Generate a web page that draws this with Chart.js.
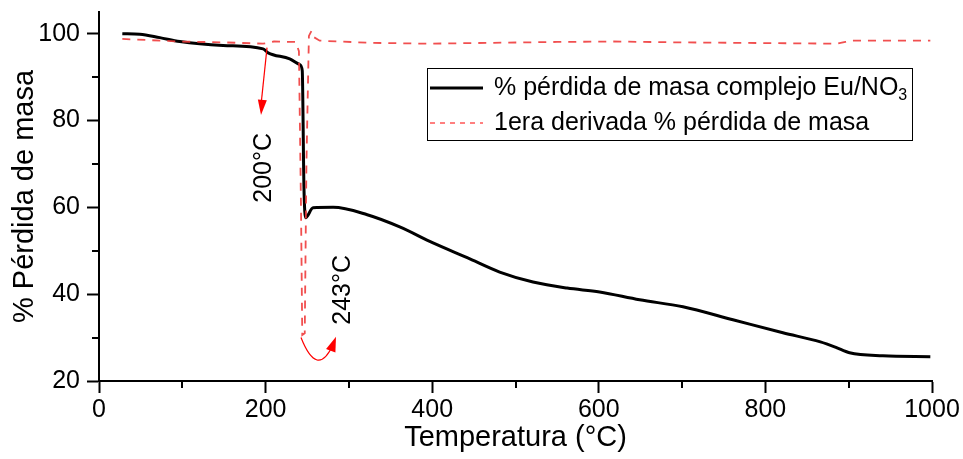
<!DOCTYPE html>
<html>
<head>
<meta charset="utf-8">
<script src="https://cdn.jsdelivr.net/npm/chart.js@4"></script>
<style>
  html, body { margin: 0; padding: 0; background: #fff; }
  #c { display: block; }
</style>
</head>
<body>
<canvas id="c" width="963" height="459"></canvas>
<script>
const FONT = "'Liberation Sans', Arial, sans-serif";

// TGA curve (% mass)
const tempMasa = [28, 49, 73, 97, 149, 197, 203, 229, 241, 244, 246, 248, 257, 281, 322, 361, 401, 442, 481, 521, 562, 601, 649, 701, 761, 821, 866, 884, 901, 941, 998];
const masa = [100, 99.9, 99.1, 98.2, 97.3, 96.5, 95.6, 94.2, 92.9, 91.5, 65, 57.6, 59.9, 60, 58.3, 55.5, 51.8, 48.4, 45.1, 42.8, 41.4, 40.5, 38.7, 37.1, 34.1, 31.1, 29, 27.8, 26.5, 25.8, 25.6];

// first derivative curve (plotted on same axis)
const tempDeriv = [28, 97, 150, 197, 210, 236, 240, 242.5, 244, 247, 249, 252, 255, 258, 265, 325, 397, 469, 550, 617, 700, 761, 830, 886, 896, 905, 998];
const deriv = [98.8, 98.2, 98.0, 97.7, 98.2, 98.1, 96, 60, 30.6, 31, 70, 99.5, 100.6, 99.2, 98.4, 97.9, 97.7, 97.9, 98.1, 98.2, 98.0, 97.9, 97.8, 97.7, 98.1, 98.4, 98.4];

const xTicks = [0, 200, 400, 600, 800, 1000];
const yTicks = [20, 40, 60, 80, 100];
const xMinor = [100, 300, 500, 700, 900];
const yMinor = [30, 50, 70, 90];

const labels = ["% pérdida de masa complejo Eu/NO", "1era derivada % pérdida de masa"];

function arrowHead(ctx, tx, ty, fx, fy, len, half) {
  const a = Math.atan2(ty - fy, tx - fx);
  ctx.beginPath();
  ctx.moveTo(tx, ty);
  ctx.lineTo(tx - len * Math.cos(a) + half * Math.sin(a), ty - len * Math.sin(a) - half * Math.cos(a));
  ctx.lineTo(tx - len * Math.cos(a) - half * Math.sin(a), ty - len * Math.sin(a) + half * Math.cos(a));
  ctx.closePath();
  ctx.fill();
}

const extras = {
  id: "extras",
  afterDraw(chart) {
    const { ctx, scales: { x, y }, chartArea } = chart;
    ctx.save();
    // minor ticks
    ctx.strokeStyle = "#000";
    ctx.lineWidth = 2;
    xMinor.forEach((v) => {
      const px = Math.round(x.getPixelForValue(v));
      ctx.beginPath();
      ctx.moveTo(px, chartArea.bottom);
      ctx.lineTo(px, chartArea.bottom + 7);
      ctx.stroke();
    });
    yMinor.forEach((v) => {
      const py = Math.round(y.getPixelForValue(v));
      ctx.beginPath();
      ctx.moveTo(chartArea.left, py);
      ctx.lineTo(chartArea.left - 7, py);
      ctx.stroke();
    });

    // 200°C arrow
    ctx.strokeStyle = "#ff0000";
    ctx.fillStyle = "#ff0000";
    ctx.lineWidth = 1.2;
    const ax0 = x.getPixelForValue(201.7), ay0 = y.getPixelForValue(96.8);
    const ax1 = x.getPixelForValue(194.5), ay1 = y.getPixelForValue(81.3);
    ctx.beginPath();
    ctx.moveTo(ax0, ay0);
    ctx.lineTo(ax1, ay1 - 10);
    ctx.stroke();
    arrowHead(ctx, ax1, ay1, ax0, ay0, 15, 4.5);

    // 243°C curved arrow
    const bx0 = x.getPixelForValue(242.5), by0 = y.getPixelForValue(30);
    const cx = x.getPixelForValue(262), cy = y.getPixelForValue(20.5);
    const bx1 = x.getPixelForValue(284.5), by1 = y.getPixelForValue(30.2);
    ctx.beginPath();
    ctx.moveTo(bx0, by0);
    ctx.quadraticCurveTo(cx, cy, bx1 - 3, by1 + 8);
    ctx.stroke();
    arrowHead(ctx, bx1, by1, bx1 - 6, by1 + 16, 15, 5);

    // rotated labels
    ctx.fillStyle = "#000";
    ctx.font = "25px " + FONT;
    ctx.textAlign = "center";
    ctx.textBaseline = "middle";
    [["200°C", 198, 69.1], ["243°C", 293.5, 41]].forEach(([t, vx, vy]) => {
      ctx.save();
      ctx.translate(x.getPixelForValue(vx), y.getPixelForValue(vy));
      ctx.rotate(-Math.PI / 2);
      ctx.fillText(t, 0, 0);
      ctx.restore();
    });

    // legend
    ctx.strokeStyle = "#000";
    ctx.lineWidth = 1;
    ctx.strokeRect(427.5, 68.5, 485, 72);
    ctx.lineWidth = 3;
    ctx.beginPath();
    ctx.moveTo(430, 88);
    ctx.lineTo(483, 88);
    ctx.stroke();
    ctx.strokeStyle = "#ff0000";
    ctx.lineWidth = 1;
    ctx.setLineDash([5, 5]);
    ctx.beginPath();
    ctx.moveTo(430, 123);
    ctx.lineTo(483, 123);
    ctx.stroke();
    ctx.setLineDash([]);
    ctx.fillStyle = "#000";
    ctx.font = "25px " + FONT;
    ctx.textAlign = "left";
    ctx.fillText(labels[0], 494, 88);
    const w = ctx.measureText(labels[0]).width;
    ctx.font = "16px " + FONT;
    ctx.fillText("3", 494 + w, 96);
    ctx.font = "25px " + FONT;
    ctx.fillText(labels[1], 494, 123);
    ctx.restore();
  },
};

new Chart(document.getElementById("c"), {
  type: "line",
  data: {
    datasets: [
      {
        label: labels[0],
        data: tempMasa.map((t, i) => ({ x: t, y: masa[i] })),
        borderColor: "#000",
        borderWidth: 3,
        pointRadius: 0,
        cubicInterpolationMode: "monotone",
        order: 1,
      },
      {
        label: labels[1],
        data: tempDeriv.map((t, i) => ({ x: t, y: deriv[i] })),
        borderColor: "rgba(240,60,60,0.9)",
        borderWidth: 1.8,
        borderDash: [8, 7],
        pointRadius: 0,
        tension: 0,
        order: 0,
      },
    ],
  },
  options: {
    responsive: false,
    animation: false,
    layout: { padding: { top: 12, right: 31, left: 0, bottom: 0 } },
    plugins: { legend: { display: false }, tooltip: { enabled: false } },
    scales: {
      x: {
        type: "linear",
        min: 0,
        max: 1000,
        afterFit: (s) => { s.height = 78; s.paddingLeft = 0; s.paddingRight = 0; },
        border: { display: true, color: "#000", width: 2 },
        grid: {
          drawOnChartArea: false,
          tickLength: 12,
          tickWidth: 2,
          tickColor: (c) => (xTicks.includes(c.tick.value) ? "#000" : "rgba(0,0,0,0)"),
        },
        ticks: {
          stepSize: 100,
          autoSkip: false,
          maxRotation: 0,
          padding: 2,
          color: "#000",
          font: { family: FONT, size: 25 },
          callback: (v) => (xTicks.includes(v) ? String(v) : ""),
        },
        title: {
          display: true,
          text: "Temperatura (°C)",
          color: "#000",
          font: { family: FONT, size: 29, lineHeight: 1.2 },
          padding: { top: 0, bottom: 4 },
        },
      },
      y: {
        min: 20,
        max: 105,
        afterFit: (s) => { s.width = 99; s.paddingTop = 0; s.paddingBottom = 0; },
        border: { display: true, color: "#000", width: 2 },
        grid: {
          drawOnChartArea: false,
          tickLength: 12,
          tickWidth: 2,
          tickColor: (c) => (yTicks.includes(c.tick.value) ? "#000" : "rgba(0,0,0,0)"),
        },
        ticks: {
          stepSize: 10,
          includeBounds: false,
          autoSkip: false,
          padding: 7,
          color: "#000",
          font: { family: FONT, size: 25 },
          callback: (v) => (yTicks.includes(v) ? String(v) : ""),
        },
        title: {
          display: true,
          text: "% Pérdida de masa",
          color: "#000",
          font: { family: FONT, size: 29, lineHeight: 1.2 },
          padding: { top: 8, bottom: 0 },
        },
      },
    },
  },
  plugins: [extras],
});
</script>
</body>
</html>
